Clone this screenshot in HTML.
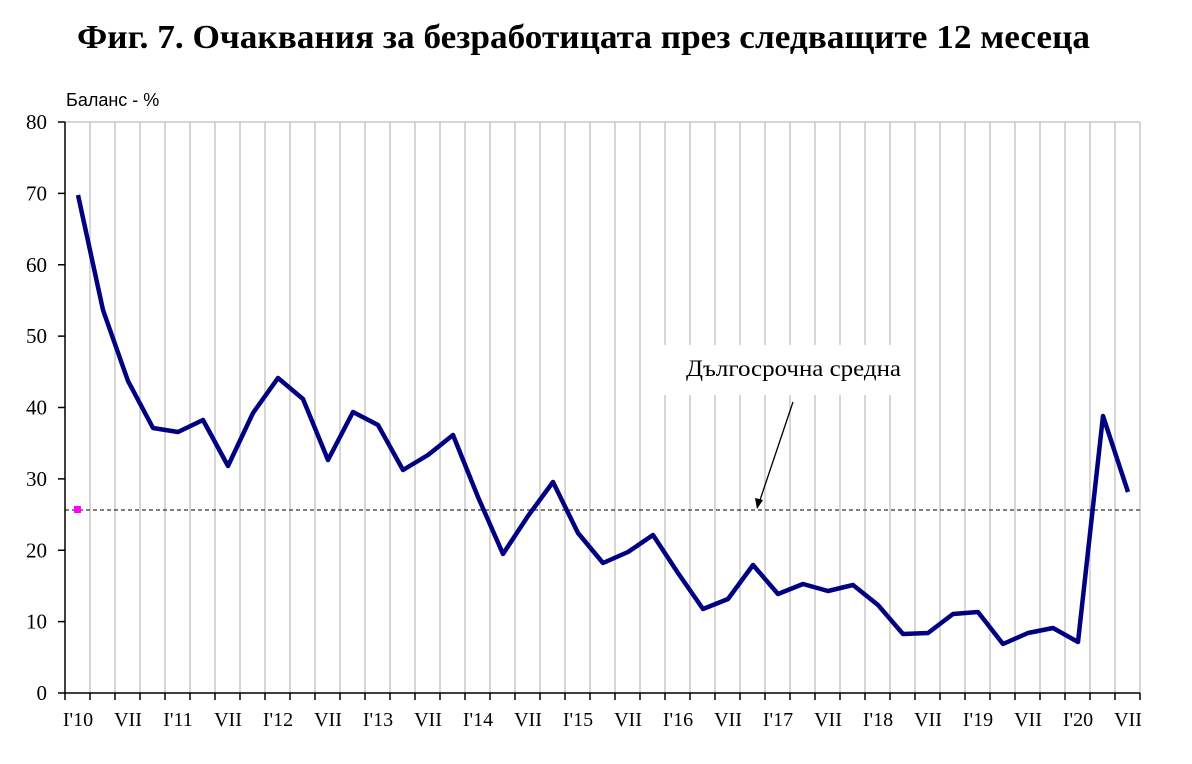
<!DOCTYPE html>
<html><head><meta charset="utf-8"><style>
body{margin:0;background:#fff;}
svg{display:block;font-family:"Liberation Serif",serif;}
</style></head><body>
<svg width="1192" height="764" viewBox="0 0 1192 764">
<rect width="1192" height="764" fill="#fff"/>
<text x="77" y="48" font-size="34" font-weight="bold" textLength="1013" lengthAdjust="spacingAndGlyphs">Фиг. 7. Очаквания за безработицата през следващите 12 месеца</text>
<text x="66" y="106" font-size="18" font-family="Liberation Sans,sans-serif">Баланс - %</text>
<path stroke="#c8c8c8" stroke-width="1.5" fill="none" d="M90 122V693M115 122V693M140 122V693M165 122V693M190 122V693M215 122V693M240 122V693M265 122V693M290 122V693M315 122V693M340 122V693M365 122V693M390 122V693M415 122V693M440 122V693M465 122V693M490 122V693M515 122V693M540 122V693M565 122V693M590 122V693M615 122V693M640 122V693M665 122V693M690 122V693M715 122V693M740 122V693M765 122V693M790 122V693M815 122V693M840 122V693M865 122V693M890 122V693M915 122V693M940 122V693M965 122V693M990 122V693M1015 122V693M1040 122V693M1065 122V693M1090 122V693M1115 122V693M1140 122V693M65 122H1140"/>
<line x1="65" y1="510" x2="1140" y2="510" stroke="#333" stroke-width="1.3" stroke-dasharray="4,3"/>
<rect x="74" y="506" width="7" height="7" fill="#ff00ff"/>
<rect x="664" y="345" width="230" height="50" fill="#fff"/>
<text x="686" y="376" font-size="23" textLength="215" lengthAdjust="spacingAndGlyphs">Дългосрочна средна</text>
<line x1="793" y1="402" x2="759" y2="503" stroke="#000" stroke-width="1.3"/>
<polygon points="757,509 755,498 763,500" fill="#000"/>
<polyline fill="none" stroke="#000080" stroke-width="4.5" stroke-linejoin="round" points="78,195 103,310 128,381 153,428 178,432 203,420 228,466 253,413 278,378 303,399 328,460 353,412 378,425 403,470 428,455 453,435 478,497 503,554 528,516 553,482 578,533 603,563 628,552 653,535 678,573 703,609 728,599 753,565 778,594 803,584 828,591 853,585 878,605 903,634 928,633 953,614 978,612 1003,644 1028,633 1053,628 1078,642 1103,416 1128,492"/>
<path stroke="#000" stroke-width="1.5" fill="none" d="M65 122V693M58 693H1140M58 122H65M58 193.4H65M58 264.8H65M58 336.1H65M58 407.5H65M58 478.9H65M58 550.3H65M58 621.6H65M65 693V700M90 693V700M115 693V700M140 693V700M165 693V700M190 693V700M215 693V700M240 693V700M265 693V700M290 693V700M315 693V700M340 693V700M365 693V700M390 693V700M415 693V700M440 693V700M465 693V700M490 693V700M515 693V700M540 693V700M565 693V700M590 693V700M615 693V700M640 693V700M665 693V700M690 693V700M715 693V700M740 693V700M765 693V700M790 693V700M815 693V700M840 693V700M865 693V700M890 693V700M915 693V700M940 693V700M965 693V700M990 693V700M1015 693V700M1040 693V700M1065 693V700M1090 693V700M1115 693V700M1140 693V700"/>
<g font-size="21" text-anchor="end">
<text x="47" y="129">80</text><text x="47" y="200.4">70</text><text x="47" y="271.8">60</text><text x="47" y="343.1">50</text><text x="47" y="414.5">40</text><text x="47" y="485.9">30</text><text x="47" y="557.3">20</text><text x="47" y="628.6">10</text><text x="47" y="700">0</text>
</g>
<g font-size="20" text-anchor="middle">
<text x="78" y="726">I'10</text><text x="128" y="726">VII</text><text x="178" y="726">I'11</text><text x="228" y="726">VII</text><text x="278" y="726">I'12</text><text x="328" y="726">VII</text><text x="378" y="726">I'13</text><text x="428" y="726">VII</text><text x="478" y="726">I'14</text><text x="528" y="726">VII</text><text x="578" y="726">I'15</text><text x="628" y="726">VII</text><text x="678" y="726">I'16</text><text x="728" y="726">VII</text><text x="778" y="726">I'17</text><text x="828" y="726">VII</text><text x="878" y="726">I'18</text><text x="928" y="726">VII</text><text x="978" y="726">I'19</text><text x="1028" y="726">VII</text><text x="1078" y="726">I'20</text><text x="1128" y="726">VII</text>
</g>
</svg>
</body></html>
